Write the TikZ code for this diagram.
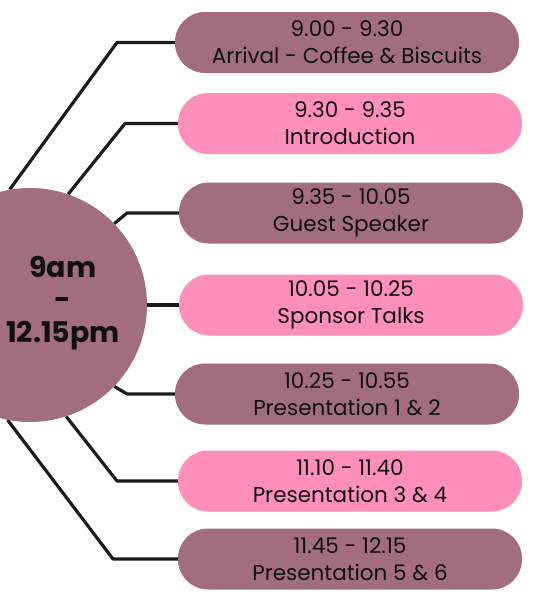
\documentclass[tikz,border=0pt]{standalone}
\usepackage{fontspec}
\usetikzlibrary{backgrounds}
\setmainfont{Poppins}
\newfontfamily\popbold{Poppins}[UprightFont={* Bold}]
\definecolor{mauve}{HTML}{A26D7E}
\definecolor{pinkbox}{HTML}{FD8FB9}
\definecolor{ink}{HTML}{111111}
\definecolor{wire}{HTML}{1C1C1C}
\begin{document}
\begin{tikzpicture}[x=1pt,y=-1pt,
  slot/.style={rectangle, rounded corners=30pt, minimum width=344pt, minimum height=61pt,
    inner sep=0pt, align=center, text=ink, font=\fontsize{21.5}{27}\selectfont},
  mslot/.style={slot, fill=mauve},
  pslot/.style={slot, fill=pinkbox},
  wireline/.style={draw=wire, line width=3.2pt, line join=round},
  hub/.style={circle, fill=mauve, minimum size=234pt, inner sep=0pt}]
\useasboundingbox (0,0) rectangle (540,597);
% nodes
\node[hub] (c) at (30,305) {};
\node[text=ink, align=center, font=\popbold\fontsize{28.5}{32.5}\selectfont] (t) at (63,303) {9am\\-\\12.15pm};
\node[mslot] (b1) at (347,42.5) {9.00 - 9.30\\Arrival - Coffee \& Biscuits};
\node[pslot] (b2) at (350,123.5) {9.30 - 9.35\\Introduction};
\node[mslot] (b3) at (351,213) {9.35 - 10.05\\Guest Speaker};
\node[pslot] (b4) at (351,305) {10.05 - 10.25\\Sponsor Talks};
\node[mslot] (b5) at (347,394) {10.25 - 10.55\\Presentation 1 \& 2};
\node[pslot] (b6) at (350,481) {11.10 - 11.40\\Presentation 3 \& 4};
\node[mslot] (b7) at (350,559) {11.45 - 12.15\\Presentation 5 \& 6};
% corners
\coordinate (k1) at (117,42.5);
\coordinate (k2) at (125,123.5);
\coordinate (k3) at (127,213);
\coordinate (k5) at (127,394);
\coordinate (k6) at (117,481);
\coordinate (k7) at (113,559);
% connectors behind the shapes
\begin{scope}[on background layer]
\path[wireline] (c.100) -- (k1) -- (b1.west);
\path[wireline] (c.71) -- (k2) -- (b2.west);
\path[wireline] (c.44) -- (k3) -- (b3.west);
\path[wireline] (c.east) -- (b4.west);
\path[wireline] (c.-44) -- (k5) -- (b5.west);
\path[wireline] (c.-72) -- (k6) -- (b6.west);
\path[wireline] (c.-101) -- (k7) -- (b7.west);
\end{scope}
\end{tikzpicture}
\end{document}
